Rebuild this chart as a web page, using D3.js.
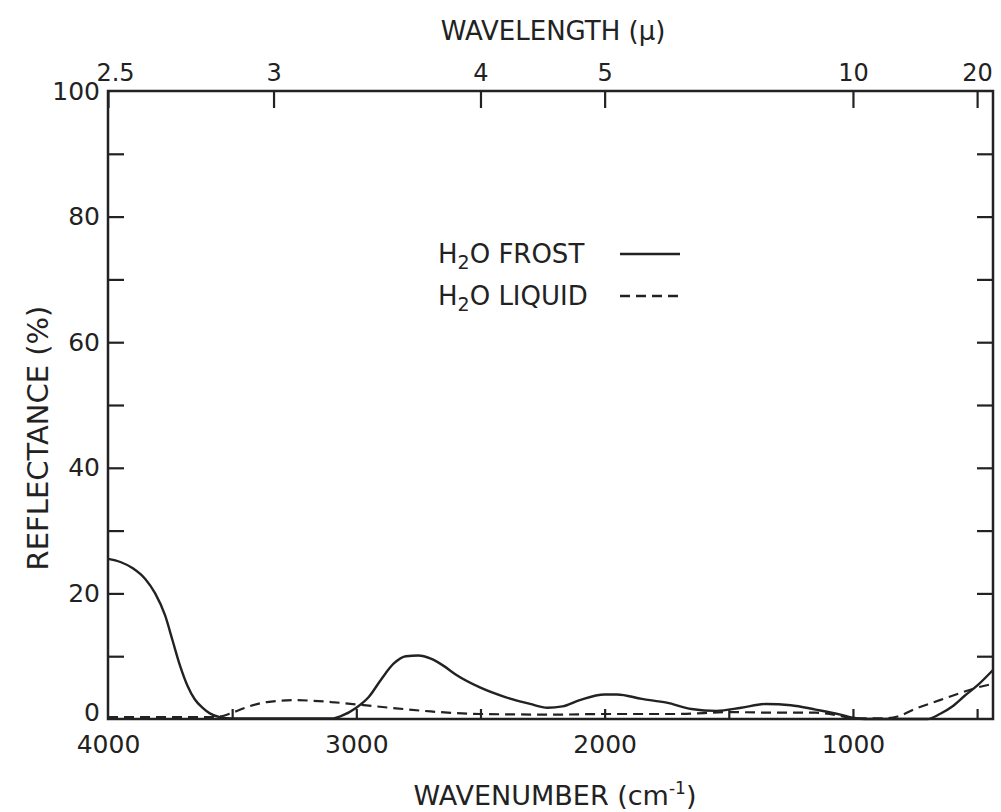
<!DOCTYPE html>
<html>
<head>
<meta charset="utf-8">
<script src="https://cdn.jsdelivr.net/npm/d3@7"></script>
<style>
  body { margin: 0; background: #fff; }
  text { fill: #222; }
</style>
</head>
<body>
<div id="chart"></div>
<script>
// wavelength ticks (top axis, microns)
var wavelengthTicks = [2.5, 3, 4, 5, 10, 20];
var wavelengthLabels = ["2.5", "3", "4", "5", "10", "20"];

// wavenumber ticks (bottom axis, cm-1)
var wavenumberLabels = [4000, 3000, 2000, 1000];
var wavenumberMinor = [3500, 3000, 2500, 2000, 1500, 1000, 500];

var reflTicks = [0, 20, 40, 60, 80, 100];
var reflMinor = [10, 20, 30, 40, 50, 60, 70, 80, 90];

// H2O frost, solid line
var frostWn = [4000, 3950, 3900, 3850, 3810, 3770, 3740, 3710, 3680, 3650, 3620, 3590, 3550, 3500,
  3100, 3060, 3000, 2950, 2900, 2850, 2800, 2750, 2700, 2650, 2600, 2500, 2400, 2300, 2230,
  2170, 2100, 2000, 1950, 1850, 1750, 1650, 1550, 1450, 1350, 1250, 1150, 1050, 1000, 950,
  700, 650, 600, 550, 500, 436];
var frostR = [25.5, 25, 24, 22.3, 20, 16.5, 12.5, 8.5, 5.3, 3.1, 1.8, 0.9, 0.3, 0.1,
  0.1, 0.5, 1.8, 3.5, 6.3, 8.8, 10, 10.1, 9.6, 8.5, 7.1, 5, 3.5, 2.4, 1.8,
  2, 3, 3.9, 3.9, 3.2, 2.6, 1.6, 1.3, 1.8, 2.4, 2.2, 1.5, 0.7, 0.2, 0,
  0, 0.8, 2, 3.7, 5.3, 7.8];

// H2O liquid, dashed line
var liquidWn = [4000, 3600, 3550, 3500, 3440, 3360, 3250, 3100, 2970, 2840, 2700, 2500, 2200,
  2000, 1700, 1500, 1300, 1150, 1050, 1000, 880, 820, 750, 650, 570, 500, 436];
var liquidR = [0.3, 0.3, 0.4, 1, 1.9, 2.7, 3, 2.7, 2.2, 1.7, 1.2, 0.8, 0.7,
  0.8, 0.8, 1.1, 1.0, 1, 0.5, 0.1, 0.1, 0.4, 1.6, 3, 4.1, 5, 5.6];

var width = 1001, height = 812;
var plotL = 108, plotR = 993, plotT = 91, plotB = 719;
var ink = "#222";

var svg = d3.select("#chart").append("svg")
  .attr("width", width)
  .attr("height", height)
  .style("font-family", "'DejaVu Sans', sans-serif");

var x = d3.scaleLinear().domain([4000, 436]).range([plotL, plotR]);
var y = d3.scaleLinear().domain([0, 100]).range([plotB, plotT]);

// frame
svg.append("rect")
  .attr("x", plotL).attr("y", plotT)
  .attr("width", plotR - plotL).attr("height", plotB - plotT)
  .attr("fill", "none").attr("stroke", ink).attr("stroke-width", 2.5);

function styleAxis(g) {
  g.select(".domain").remove();
  g.selectAll(".tick line").attr("stroke", ink).attr("stroke-width", 2.2);
  g.selectAll(".tick text").attr("fill", ink);
}

// inward ticks, left and right
svg.append("g").attr("transform", "translate(" + plotL + ",0)")
  .call(d3.axisLeft(y).tickValues(reflMinor).tickSizeInner(-16).tickSizeOuter(0).tickFormat(""))
  .call(styleAxis);
svg.append("g").attr("transform", "translate(" + plotR + ",0)")
  .call(d3.axisRight(y).tickValues(reflMinor).tickSizeInner(-16).tickSizeOuter(0).tickFormat(""))
  .call(styleAxis);

// left labels
var leftG = svg.append("g").attr("transform", "translate(" + plotL + ",0)")
  .call(d3.axisLeft(y).tickValues(reflTicks).tickSize(0).tickPadding(8).tickFormat(d3.format("d")))
  .call(styleAxis);
leftG.selectAll("text").attr("font-size", 25).attr("font-family", "'DejaVu Sans', sans-serif");
// the 0 label is lifted off the corner
leftG.selectAll(".tick").filter(function (d) { return d === 0; })
  .select("text").attr("y", -7);

// top axis: wavelength
var topAxis = d3.axisTop(x)
  .tickValues(wavelengthTicks.map(function (w) { return 1e4 / w; }))
  .tickSizeInner(-17).tickSizeOuter(0).tickPadding(10)
  .tickFormat(function (d, i) { return wavelengthLabels[i]; });
var topG = svg.append("g").attr("transform", "translate(0," + plotT + ")")
  .call(topAxis)
  .call(styleAxis);
topG.selectAll("text").attr("font-size", 24).attr("font-family", "'DejaVu Sans', sans-serif");
// the 2.5 label sits a little right of the corner
topG.selectAll(".tick").filter(function (d) { return d === 4000; })
  .select("text").attr("dx", 7);

// bottom axis: wavenumber
svg.append("g").attr("transform", "translate(0," + plotB + ")")
  .call(d3.axisBottom(x).tickValues(wavenumberMinor).tickSizeInner(-10).tickSizeOuter(0).tickFormat(""))
  .call(styleAxis);
svg.append("g").attr("transform", "translate(0," + plotB + ")")
  .call(d3.axisBottom(x).tickValues(wavenumberLabels).tickSize(0).tickPadding(16).tickFormat(d3.format("d")))
  .call(styleAxis)
  .selectAll("text").attr("font-size", 25).attr("font-family", "'DejaVu Sans', sans-serif");

// axis titles
svg.append("text")
  .attr("x", 553).attr("y", 40)
  .attr("text-anchor", "middle")
  .attr("font-size", 26)
  .text("WAVELENGTH (\u00b5)");

var xt = svg.append("text")
  .attr("x", 555).attr("y", 805)
  .attr("text-anchor", "middle")
  .attr("font-size", 27);
xt.append("tspan").text("WAVENUMBER (cm");
xt.append("tspan").attr("dy", -11).attr("font-size", 17).text("-1");
xt.append("tspan").attr("dy", 11).text(")");

svg.append("text")
  .attr("transform", "translate(48," + 438 + ") rotate(-90)")
  .attr("text-anchor", "middle")
  .attr("font-size", 29)
  .text("REFLECTANCE (%)");

// curves
var line = d3.line()
  .x(function (d) { return x(d[0]); })
  .y(function (d) { return y(d[1]); })
  .curve(d3.curveMonotoneX);

var frost = frostWn.map(function (w, i) { return [w, frostR[i]]; });
var liquid = liquidWn.map(function (w, i) { return [w, liquidR[i]]; });

svg.append("path").datum(liquid)
  .attr("d", line)
  .attr("fill", "none").attr("stroke", ink).attr("stroke-width", 2.2)
  .attr("stroke-dasharray", "10,6");

svg.append("path").datum(frost)
  .attr("d", line)
  .attr("fill", "none").attr("stroke", ink).attr("stroke-width", 2.4);

// legend
var legend = [
  { name: "FROST", dash: null },
  { name: "LIQUID", dash: "10,6" }
];
var lg = svg.append("g").attr("font-size", 26);
legend.forEach(function (d, i) {
  var yy = 263 + i * 42;
  var t = lg.append("text").attr("x", 438).attr("y", yy);
  t.append("tspan").text("H");
  t.append("tspan").attr("dy", 6).attr("font-size", 19).text("2");
  t.append("tspan").attr("dy", -6).text("O " + d.name);
  lg.append("line")
    .attr("x1", 620).attr("x2", 680)
    .attr("y1", yy - 9).attr("y2", yy - 9)
    .attr("stroke", ink).attr("stroke-width", 2.4)
    .attr("stroke-dasharray", d.dash);
});
</script>
</body>
</html>
